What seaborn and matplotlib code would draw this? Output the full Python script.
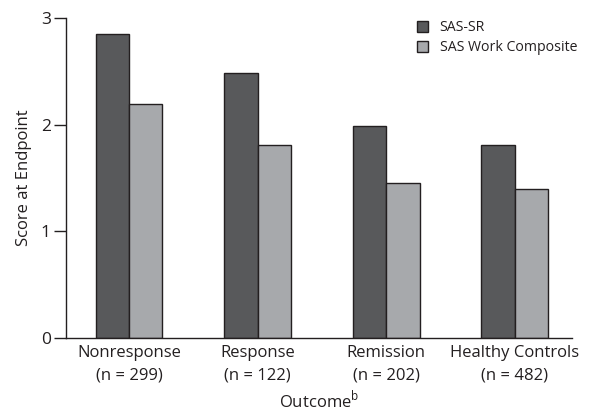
import matplotlib
matplotlib.use("Agg")
import matplotlib.pyplot as plt
import seaborn as sns
import pandas as pd

categories = ["Nonresponse\n(n = 299)", "Response\n(n = 122)", "Remission\n(n = 202)", "Healthy Controls\n(n = 482)"]
series_names = ["SAS-SR", "SAS Work Composite"]
sas_sr = [2.85, 2.48, 1.99, 1.81]
sas_work = [2.19, 1.81, 1.45, 1.40]
y_ticks = [0, 1, 2, 3]

sns.set_theme(style="ticks")
plt.rcParams["font.family"] = ["Open Sans", "DejaVu Sans"]
plt.rcParams["mathtext.fontset"] = "custom"
plt.rcParams["mathtext.rm"] = "Open Sans"

df = pd.DataFrame({
    "Outcome": categories * 2,
    "Score": sas_sr + sas_work,
    "Measure": [series_names[0]] * 4 + [series_names[1]] * 4,
})

fig = plt.figure(figsize=(5.89, 4.13), dpi=100)
ax = fig.add_axes([66 / 589, 75 / 413, (572 - 66) / 589, (338 - 18) / 413])

palette = {series_names[0]: "#58595b", series_names[1]: "#a7a9ac"}
sns.barplot(data=df, x="Outcome", y="Score", hue="Measure", order=categories,
            hue_order=series_names, palette=palette, width=0.52,
            edgecolor="#231f20", linewidth=1.0, saturation=1, ax=ax)

ax.set_xlim(-0.49, 3.445)
ax.set_ylim(0, 3)
ax.set_yticks(y_ticks)
ax.set_yticklabels([str(t) for t in y_ticks], fontsize=12.5, color="#231f20")
ax.tick_params(axis="y", length=9, width=1, color="#231f20", pad=2)
ax.tick_params(axis="x", length=0, pad=5, labelsize=12, colors="#231f20")
for lab in ax.get_xticklabels():
    lab.set_linespacing(1.55)
for s in ["top", "right"]:
    ax.spines[s].set_visible(False)
for s in ["left", "bottom"]:
    ax.spines[s].set_color("#231f20")
    ax.spines[s].set_linewidth(1.0)

ax.set_ylabel("Score at Endpoint", fontsize=12, color="#231f20", labelpad=6)
ax.set_xlabel("Outcome$^{\\mathrm{b}}$", fontsize=12, color="#231f20", labelpad=4)

leg = ax.legend(loc="upper left", bbox_to_anchor=(410 / 589, 1 - 13 / 413),
                bbox_transform=fig.transFigure, frameon=False, fontsize=10.2,
                handlelength=0.8, handleheight=0.8, handletextpad=0.8,
                labelspacing=0.35, borderpad=0)
for t in leg.get_texts():
    t.set_color("#231f20")

fig.savefig("out.png", dpi=100)
